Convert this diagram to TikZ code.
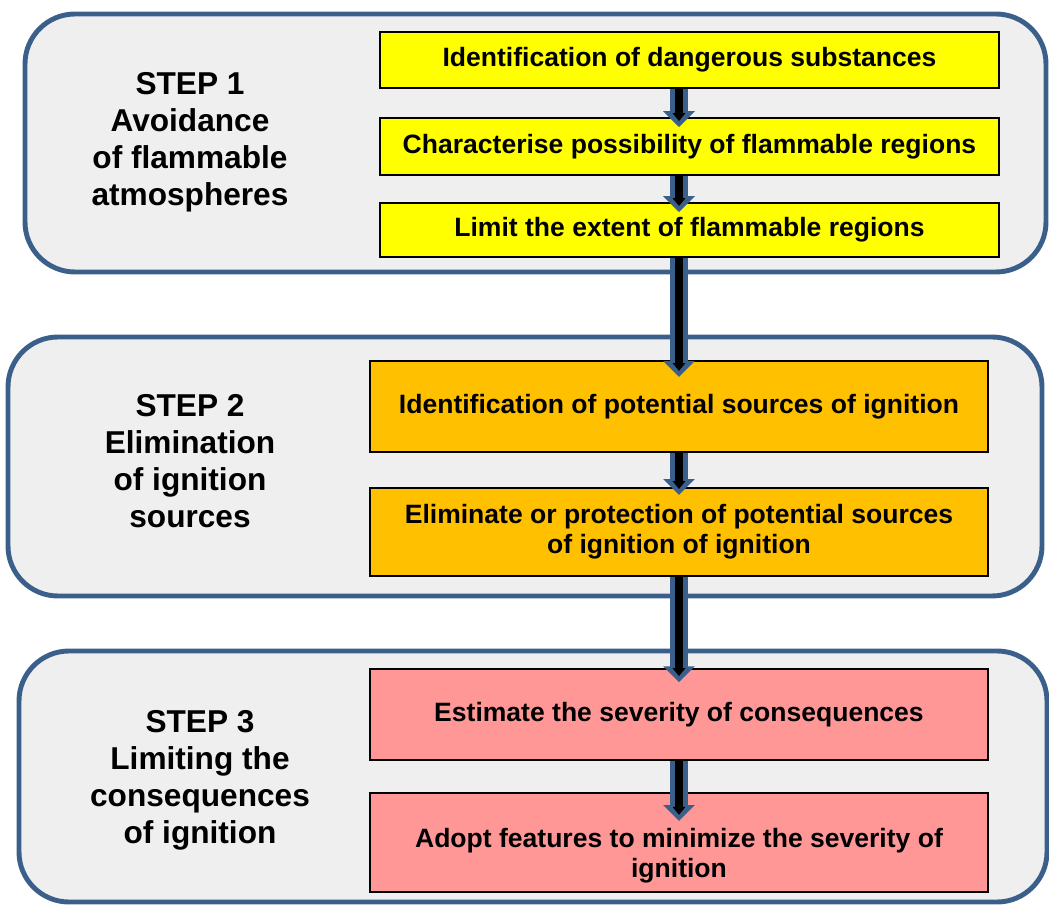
\documentclass[tikz,border=0pt]{standalone}
\usepackage{fontspec}
\setmainfont{Liberation Sans}
\usetikzlibrary{arrows.meta}
\definecolor{stepblue}{HTML}{3A5F8B}
\definecolor{stepgray}{HTML}{EFEFEF}
\definecolor{boxyellow}{HTML}{FFFF00}
\definecolor{boxorange}{HTML}{FFC000}
\definecolor{boxpink}{HTML}{FF9797}

\begin{document}
\begin{tikzpicture}[x=0.02cm,y=-0.02cm,
		stepframe/.style={draw=stepblue,fill=stepgray,line width=2.8pt,rounded corners=1cm},
		steptext/.style={align=center,font=\fontsize{18}{21}\selectfont\bfseries},
		task/.style={draw=black,line width=1.1pt,inner sep=0pt,align=center,
			font=\fontsize{15.1}{17}\selectfont\bfseries},
		arrowout/.style={draw=stepblue,line width=10pt,-{Triangle[width=17.5pt,length=9pt]}},
		arrowin/.style={draw=black,line width=4pt,-{Triangle[width=7pt,length=4.5pt]}}]
		\useasboundingbox (0,0) rectangle (1049,905);

		% the three steps
		\draw[stepframe] (25,14) rectangle (1046,272);
		\draw[stepframe] (8,337) rectangle (1042,596);
		\draw[stepframe] (19,651) rectangle (1047,902);

		\node[steptext] (s1) at (190,142) {STEP 1\\Avoidance\\of flammable\\atmospheres};
		\node[steptext] (s2) at (190,461) {STEP 2\\Elimination\\of ignition\\sources};
		\node[steptext] (s3) at (200,780) {STEP 3\\Limiting the\\consequences\\of ignition};

		% tasks
		\node[task,fill=boxyellow,minimum width=12.38cm,minimum height=1.12cm] (y1) at (689.5,60) {Identification of dangerous substances};
		\node[task,fill=boxyellow,minimum width=12.38cm,minimum height=1.14cm] (y2) at (689.5,146.5) {Characterise possibility of flammable regions};
		\node[task,fill=boxyellow,minimum width=12.38cm,minimum height=1.08cm] (y3) at (689.5,230) {Limit the extent of flammable regions};

		\node[task,fill=boxorange,minimum width=12.36cm,minimum height=1.82cm] (o1) at (679,406.5) {Identification of potential sources of ignition};
		\node[task,fill=boxorange,minimum width=12.36cm,minimum height=1.76cm] (o2) at (679,532) {Eliminate or protection of potential sources\\of ignition of ignition};

		\node[task,fill=boxpink,minimum width=12.36cm,minimum height=1.82cm] (p1) at (679,714.5) {Estimate the severity of consequences};
		\node[task,fill=boxpink,minimum width=12.36cm,minimum height=1.98cm] (p2) at (679,842.5) {\rule{0pt}{26pt}Adopt features to minimize the severity of\\ignition};

		% arrows
		\draw[arrowout,shorten >=-5.7pt] (y1.south -| o1.north) -- (y2.north -| o1.north);
		\draw[arrowin,shorten >=-2.3pt] (y1.south -| o1.north) -- (y2.north -| o1.north);
		\draw[arrowout,shorten >=-5.7pt] (y2.south -| o1.north) -- (y3.north -| o1.north);
		\draw[arrowin,shorten >=-2.3pt] (y2.south -| o1.north) -- (y3.north -| o1.north);
		\draw[arrowout,shorten >=-9.6pt] (y3.south -| o1.north) -- (o1.north);
		\draw[arrowin,shorten >=-6.2pt] (y3.south -| o1.north) -- (o1.north);
		\draw[arrowout,shorten >=-4.5pt] (o1.south) -- (o2.north);
		\draw[arrowin,shorten >=-1.1pt] (o1.south) -- (o2.north);
		\draw[arrowout,shorten >=-8pt] (o2.south) -- (p1.north);
		\draw[arrowin,shorten >=-4.6pt] (o2.south) -- (p1.north);
		\draw[arrowout,shorten >=-16.4pt] (p1.south) -- (p2.north);
		\draw[arrowin,shorten >=-13pt] (p1.south) -- (p2.north);
	\end{tikzpicture}
\end{document}
